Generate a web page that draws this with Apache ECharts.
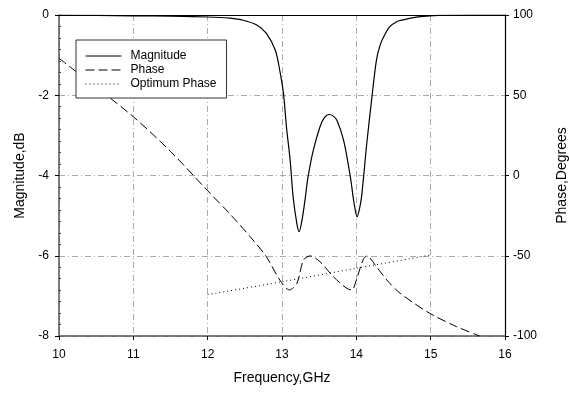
<!DOCTYPE html>
<html><head><meta charset="utf-8">
<script src="https://cdn.jsdelivr.net/npm/echarts@6/dist/echarts.min.js"></script>
<style>html,body{margin:0;padding:0;background:#fff}#c{width:569px;height:393px}</style>
</head><body><div id="c"></div>
<script>
const xTicks = [10, 11, 12, 13, 14, 15, 16];
const magFreq = [10.0,10.5,11.0,11.5,12.0,12.3,12.48,12.66,12.79,12.91,12.97,13.02,13.06,13.11,13.15,13.2,13.23,13.27,13.31,13.35,13.42,13.51,13.57,13.63,13.69,13.74,13.83,13.92,13.97,14.01,14.04,14.07,14.14,14.21,14.27,14.32,14.38,14.45,14.55,14.63,14.75,14.86,15.1,15.5,16.0];
const magValues = [0,-0.01,-0.02,-0.03,-0.05,-0.08,-0.13,-0.25,-0.46,-0.88,-1.38,-1.96,-2.79,-3.63,-4.54,-5.2,-5.4,-5.1,-4.6,-4.04,-3.38,-2.79,-2.56,-2.48,-2.52,-2.63,-3.13,-4.04,-4.7,-5.03,-4.85,-4.54,-3.21,-2.04,-1.13,-0.75,-0.5,-0.29,-0.16,-0.12,-0.07,-0.04,-0.01,0,0];
const phaseFreq = [10.0,10.5,11.0,11.5,12.0,12.3,12.61,12.79,12.97,13.1,13.2,13.29,13.38,13.51,13.69,13.87,13.94,14.0,14.09,14.14,14.27,14.41,14.59,14.99,15.35,15.66];
const phaseValues = [73,55,36.6,15,-9.5,-24,-40.2,-50.6,-65.1,-71.3,-67.2,-52.6,-50.1,-53.7,-63,-70.3,-71.3,-65.1,-52.6,-50.1,-56.8,-65.1,-73.4,-85.9,-94.2,-100];
const optFreq = [12, 13, 14, 15];
const optValues = [-74.2, -66.2, -57.8, -49.5];

const zip = (a, b) => a.map((v, i) => [v, b[i]]);
const font = 'Liberation Sans, Arial, sans-serif';
const gridLine = {show: true, lineStyle: {color: '#aaaaaa', width: 1, type: [6, 3, 1, 3]}};

const chart = echarts.init(document.getElementById('c'), null, {renderer: 'canvas'});
chart.setOption({
  animation: false,
  backgroundColor: '#fff',
  grid: {left: 59, right: 64, top: 15, bottom: 57, containLabel: false, outerBoundsMode: 'none'},
  legend: {
    left: 76, top: 40, orient: 'vertical',
    backgroundColor: '#fff',
    borderColor: '#333', borderWidth: 1,
    padding: [10, 10, 8, 9],
    itemWidth: 36, itemHeight: 14, itemGap: 2,
    itemStyle: {opacity: 0},
    lineStyle: {width: 1},
    textStyle: {fontFamily: font, fontSize: 12, color: '#000', padding: [0, 0, 0, 4]},
    data: ['Magnitude', 'Phase', 'Optimum Phase']
  },
  xAxis: [{
    type: 'value', min: 10, max: 16, interval: 1, position: 'bottom',
    name: 'Frequency,GHz', nameLocation: 'middle', nameGap: 35,
    nameTextStyle: {fontFamily: font, fontSize: 14, color: '#000'},
    axisLine: {onZero: false, lineStyle: {color: '#555', width: 1.5}},
    axisTick: {show: true, inside: false, length: 4, lineStyle: {color: '#000'}},
    axisLabel: {fontFamily: font, fontSize: 12, color: '#000', margin: 13, formatter: v => xTicks.includes(v) ? String(v) : ''},
    splitLine: gridLine
  }, {
    type: 'value', min: 10, max: 16, position: 'top',
    axisLine: {show: true, onZero: false, lineStyle: {color: '#000', width: 1.2}},
    axisTick: {show: false}, axisLabel: {show: false}, splitLine: {show: false}
  }],
  yAxis: [{
    type: 'value', min: -8, max: 0, interval: 2, position: 'left',
    name: 'Magnitude,dB', nameLocation: 'middle', nameGap: 30, nameRotate: 90,
    nameTextStyle: {fontFamily: font, fontSize: 14, color: '#000'},
    axisLine: {show: true, onZero: false, lineStyle: {color: '#555', width: 1.5}},
    axisTick: {show: true, inside: false, length: 4, lineStyle: {color: '#000'}},
    axisLabel: {fontFamily: font, fontSize: 12, color: '#000', margin: 10},
    splitLine: gridLine
  }, {
    type: 'value', min: -100, max: 100, interval: 50, position: 'right',
    name: 'Phase,Degrees', nameLocation: 'middle', nameGap: 50, nameRotate: 90,
    nameTextStyle: {fontFamily: font, fontSize: 14, color: '#000'},
    axisLine: {show: true, onZero: false, lineStyle: {color: '#000', width: 1.2}},
    axisTick: {show: true, inside: false, length: 4, lineStyle: {color: '#000'}},
    axisLabel: {fontFamily: font, fontSize: 12, color: '#000', margin: 8},
    splitLine: {show: false}
  }, {
    type: 'value', min: -8, max: 0, interval: 2, position: 'left',
    axisLine: {show: false, onZero: false}, axisLabel: {show: false}, splitLine: {show: false},
    axisTick: {show: false, inside: true},
    minorTick: {show: true, splitNumber: 7, length: 2, lineStyle: {color: '#444'}}
  }],
  series: [{
    name: 'Magnitude', type: 'line', xAxisIndex: 0, yAxisIndex: 0,
    data: zip(magFreq, magValues), symbol: 'none', smooth: 0.3,
    lineStyle: {color: '#000', width: 1.2, type: 'solid'}, itemStyle: {color: '#000'}
  }, {
    name: 'Phase', type: 'line', xAxisIndex: 0, yAxisIndex: 1,
    data: zip(phaseFreq, phaseValues), symbol: 'none', smooth: 0.3,
    lineStyle: {color: '#000', width: 1, type: [9, 4]}, itemStyle: {color: '#000'}
  }, {
    name: 'Optimum Phase', type: 'line', xAxisIndex: 0, yAxisIndex: 1,
    data: zip(optFreq, optValues), symbol: 'none', smooth: 0.3,
    lineStyle: {color: '#000', width: 1, type: [1, 3]}, itemStyle: {color: '#000'}
  }]
});
</script></body></html>
